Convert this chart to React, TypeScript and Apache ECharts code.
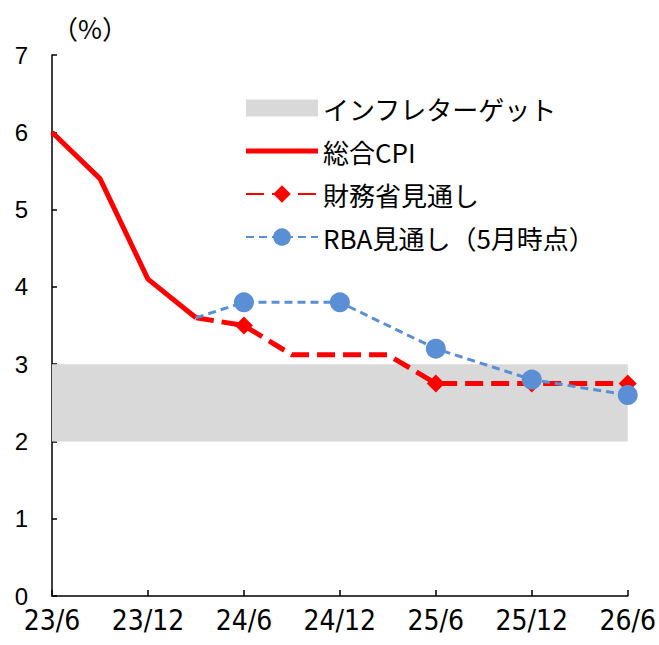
import React, { useEffect, useRef } from "react";
import * as echarts from "echarts";

const categories = ["23/6", "23/9", "23/12", "24/3", "24/6", "24/9", "24/12", "25/3", "25/6", "25/9", "25/12", "26/3", "26/6"];
const totalCpi: (number | null)[] = [6.0, 5.4, 4.1, 3.6, null, null, null, null, null, null, null, null, null];
// [value, showMarker]
const treasury: ([number, boolean] | null)[] = [null, null, null, [3.6, false], [3.5, true], [3.12, false], [3.12, false], [3.12, false], [2.75, true], [2.75, false], [2.75, true], [2.75, false], [2.75, true]];
const rba: ([number, boolean] | null)[] = [null, null, null, [3.6, false], [3.8, true], null, [3.8, true], null, [3.2, true], null, [2.8, true], null, [2.6, true]];
const targetLow = 2;
const targetHigh = 3;
const yTicks = { min: 0, max: 7, interval: 1 };

const names = ["インフレターゲット", "総合CPI", "財務省見通し", "RBA見通し（5月時点）"];

const toData = (arr: ([number, boolean] | null)[]) =>
  arr.map((d) => (d === null ? null : d[1] ? d[0] : { value: d[0], symbol: "none" }));

export default function App() {
  const ref = useRef<HTMLDivElement>(null);
  useEffect(() => {
    document.body.style.margin = "0";
    const chart = echarts.init(ref.current!, null, { renderer: "svg" });
    const red = "#FF0000";
    const blue = "#5B8FD5";
    chart.setOption({
      animation: false,
      grid: { left: 52, right: 30, top: 55, bottom: 49 },
      legend: {
        orient: "vertical",
        left: 240,
        top: 88,
        itemWidth: 72,
        itemHeight: 22,
        itemGap: 13,
        textStyle: { fontSize: 26, color: "#000", fontFamily: "Noto Sans CJK JP", lineHeight: 30 },
        data: [
          { name: names[0], icon: "path://M0,0H72V17H0Z" },
          { name: names[1], icon: "path://M0,0H72V5H0Z" },
          { name: names[2] },
          { name: names[3] },
        ],
      },
      xAxis: {
        type: "category",
        data: categories,
        boundaryGap: false,
        axisLine: { lineStyle: { color: "#000", width: 1.5 } },
        axisTick: { inside: true, interval: 1, length: 6, lineStyle: { color: "#000", width: 1.5 } },
        axisLabel: { interval: 1, color: "#000", fontSize: 28, fontFamily: "Liberation Sans Narrow, DejaVu Sans Condensed, sans-serif", margin: 10 },
        splitLine: { show: false },
      },
      yAxis: {
        type: "value",
        min: yTicks.min,
        max: yTicks.max,
        interval: yTicks.interval,
        name: "（%）",
        nameLocation: "end",
        nameGap: 15,
        nameTextStyle: { color: "#000", fontSize: 26, fontFamily: "Noto Sans CJK JP", align: "left" },
        axisLine: { show: true, lineStyle: { color: "#000", width: 1.5 } },
        axisTick: { show: true, inside: true, length: 5, lineStyle: { color: "#000", width: 1.5 } },
        axisLabel: { color: "#000", fontSize: 24, fontFamily: "Liberation Sans, Arial, sans-serif", margin: 24 },
        splitLine: { show: false },
      },
      series: [
        {
          name: names[0],
          type: "line",
          data: categories.map(() => null),
          itemStyle: { color: "#D9D9D9" },
          lineStyle: { width: 0 },
          symbol: "none",
          z: 1,
          markArea: {
            silent: true,
            itemStyle: { color: "#D9D9D9", opacity: 1 },
            data: [[{ xAxis: categories[0], yAxis: targetLow }, { xAxis: categories[categories.length - 1], yAxis: targetHigh }]],
          },
        },
        {
          name: names[1],
          type: "line",
          data: totalCpi,
          symbol: "none",
          itemStyle: { color: red },
          lineStyle: { color: red, width: 5 },
          z: 3,
        },
        {
          name: names[2],
          type: "line",
          data: toData(treasury),
          connectNulls: true,
          symbol: "diamond",
          symbolSize: 18,
          itemStyle: { color: red },
          lineStyle: { color: red, width: 5, type: [18, 8] },
          z: 4,
        },
        {
          name: names[3],
          type: "line",
          data: toData(rba),
          connectNulls: true,
          symbol: "circle",
          symbolSize: 20,
          itemStyle: { color: blue },
          lineStyle: { color: blue, width: 3, type: [8, 5] },
          z: 5,
        },
      ],
    });
    return () => chart.dispose();
  }, []);
  return <div ref={ref} style={{ width: 659, height: 645 }} />;
}
